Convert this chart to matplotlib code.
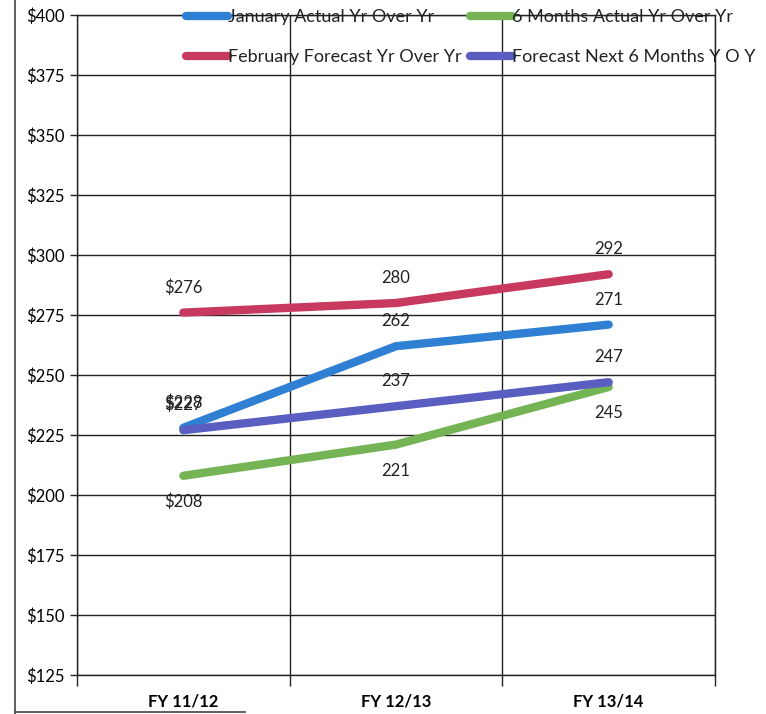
import matplotlib.pyplot as plt
from matplotlib.lines import Line2D

# Data
categories = ["FY 11/12", "FY 12/13", "FY 13/14"]
series_names = [
    "January Actual Yr Over Yr",
    "February Forecast Yr Over Yr",
    "6 Months Actual Yr Over Yr",
    "Forecast Next 6 Months Y O Y",
]
january_actual = [228, 262, 271]
february_forecast = [276, 280, 292]
six_months_actual = [208, 221, 245]
forecast_next_6 = [227, 237, 247]

series_values = [january_actual, february_forecast, six_months_actual, forecast_next_6]
colors = ["#2f80d2", "#c8395f", "#74b455", "#5a5ec0"]
label_below = [False, False, True, False]

y_ticks = list(range(125, 401, 25))

plt.rcParams['font.family'] = ['Lato', 'DejaVu Sans']

fig = plt.figure(figsize=(7.66, 7.14), dpi=100)
ax = fig.add_axes([77 / 766, 1 - 675 / 714, (715 - 77) / 766, (675 - 15) / 714])

x = list(range(len(categories)))
handles = []
for name, vals, col, below in zip(series_names, series_values, colors, label_below):
    ln, = ax.plot(x, vals, color=col, lw=6, solid_capstyle='round',
                  solid_joinstyle='round', label=name, zorder=3)
    handles.append(ln)
    for i, v in enumerate(vals):
        txt = f"${v}" if i == 0 else str(v)
        ax.annotate(txt, (i, v), xytext=(0, -19 if below else 18),
                    textcoords='offset points', ha='center', va='center',
                    fontsize=12, color='#222222', zorder=4)

ax.set_xlim(-0.5, len(categories) - 0.5)
ax.set_ylim(125, 400)
ax.set_yticks(y_ticks)
ax.set_yticklabels([f"${t}" for t in y_ticks], fontsize=12)
ax.set_xticks([i + 0.5 for i in range(-1, len(categories))])
ax.set_xticklabels([])
ax.set_xticks(x, minor=True)
ax.set_xticklabels(categories, minor=True, fontsize=12, fontweight='bold')
ax.tick_params(axis='x', which='major', length=8, width=1, color='#222222')
ax.tick_params(axis='x', which='minor', length=0, pad=13)
ax.tick_params(axis='y', length=5, width=1, color='#222222', pad=4)
ax.grid(True, which='major', color='#222222', lw=1)
for sp in ax.spines.values():
    sp.set_color('#222222')
    sp.set_linewidth(1)

leg = fig.legend(handles=handles, loc='upper left', ncol=2, frameon=False,
                 bbox_to_anchor=(186 / 766, 1 - 9 / 714), bbox_transform=fig.transFigure,
                 borderaxespad=0, borderpad=0, fontsize=13, handlelength=2.3,
                 handletextpad=0.0, columnspacing=0.5, labelspacing=1.35)
for t in leg.get_texts():
    t.set_color('#222222')

# scanned page border
fig.add_artist(Line2D([15 / 766, 15 / 766], [0, 1], color='#444444', lw=1.2,
                      transform=fig.transFigure))
fig.add_artist(Line2D([15 / 766, 245 / 766], [2 / 714, 2 / 714], color='#444444', lw=1.2,
                      transform=fig.transFigure))

fig.savefig("out.png", dpi=100)
